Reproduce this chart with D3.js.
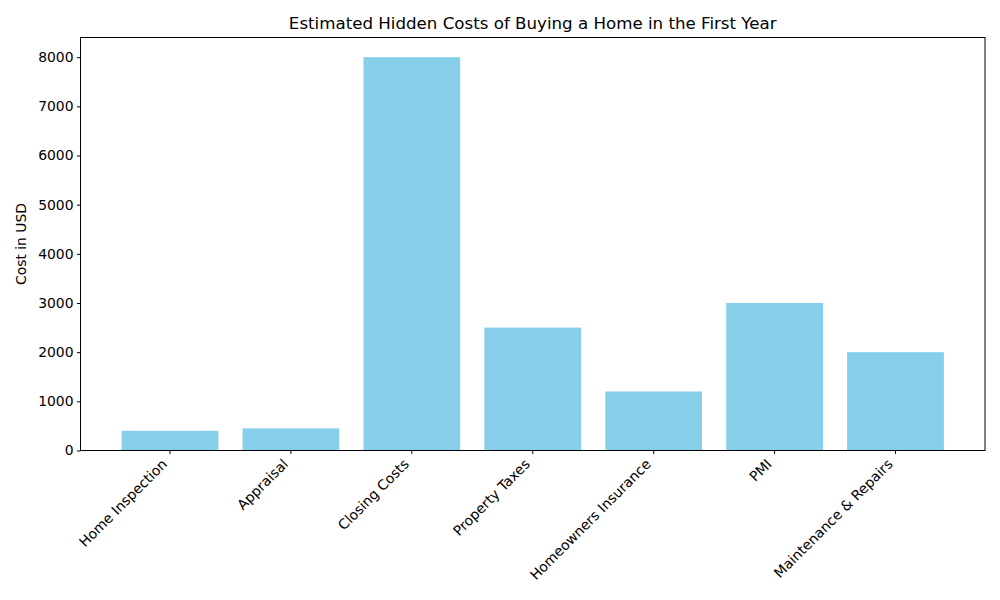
<!DOCTYPE html>
<html>
<head>
<meta charset="utf-8">
<script src="https://cdn.jsdelivr.net/npm/d3@7"></script>
<style>
  body { margin: 0; background: #fff; }
  svg { display: block; font-family: "DejaVu Sans", sans-serif; }
</style>
</head>
<body>
<svg id="chart" width="1000" height="600"></svg>
<script>
const categories = ["Home Inspection", "Appraisal", "Closing Costs", "Property Taxes", "Homeowners Insurance", "PMI", "Maintenance & Repairs"];
const costs = [400, 450, 8000, 2500, 1200, 3000, 2000];
const yTicks = [0, 1000, 2000, 3000, 4000, 5000, 6000, 7000, 8000];
const titleText = "Estimated Hidden Costs of Buying a Home in the First Year";
const yLabel = "Cost in USD";

const svg = d3.select("#chart");
const plotLeft = 80.5, plotRight = 985, plotTop = 37.5, plotBottom = 450.5;

const x = d3.scaleBand().domain(categories).range([plotLeft, plotRight]).paddingInner(0.2).paddingOuter(0.34);
const y = d3.scaleLinear().domain([0, 8400]).range([plotBottom, plotTop]);

svg.append("g").selectAll("rect").data(categories).join("rect")
  .attr("x", d => x(d))
  .attr("width", x.bandwidth())
  .attr("y", (d, i) => y(costs[i]))
  .attr("height", (d, i) => y(0) - y(costs[i]))
  .attr("fill", "#87ceeb");

// frame
svg.append("rect").attr("x", plotLeft).attr("y", plotTop).attr("width", plotRight - plotLeft).attr("height", plotBottom - plotTop)
  .attr("fill", "none").attr("stroke", "#000").attr("stroke-width", 1);

// y axis
const yAxis = svg.append("g").attr("transform", `translate(${plotLeft},0)`)
  .call(d3.axisLeft(y).tickValues(yTicks).tickSize(3.5).tickPadding(3.5).tickFormat(d3.format("d")));
yAxis.select(".domain").remove();
yAxis.selectAll("text").attr("font-size", "13.9px").attr("fill", "#000").attr("font-family", "DejaVu Sans");
yAxis.selectAll("line").attr("stroke", "#000");

// x axis
const xAxis = svg.append("g").attr("transform", `translate(0,${plotBottom})`)
  .call(d3.axisBottom(x).tickSize(3.5).tickFormat(""));
xAxis.select(".domain").remove();
xAxis.selectAll("line").attr("stroke", "#000");

svg.append("g").selectAll("text").data(categories).join("text")
  .attr("transform", d => `translate(${x(d) + x.bandwidth() / 2 - 2},${465}) rotate(-45)`)
  .attr("text-anchor", "end")
  .attr("font-size", "13.9px")
  .attr("fill", "#000")
  .text(d => d);

svg.append("text")
  .attr("x", (plotLeft + plotRight) / 2).attr("y", 29)
  .attr("text-anchor", "middle").attr("font-size", "16.67px").attr("fill", "#000")
  .text(titleText);

svg.append("text")
  .attr("transform", `translate(26,${(plotTop + plotBottom) / 2}) rotate(-90)`)
  .attr("text-anchor", "middle").attr("font-size", "13.9px").attr("fill", "#000")
  .text(yLabel);
</script>
</body>
</html>
